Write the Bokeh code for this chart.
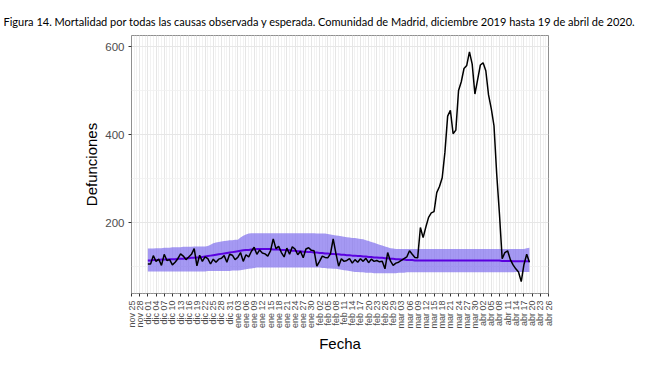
import math
import pandas as pd
from bokeh.plotting import figure
from bokeh.models import FixedTicker, Range1d
from bokeh.embed import file_html
from bokeh.resources import INLINE

# ---------------- data ----------------
title_text = ("Figura 14. Mortalidad por todas las causas observada y esperada. "
              "Comunidad de Madrid, diciembre 2019 hasta 19 de abril de 2020.")

start_date = "2019-12-01"   # first day of the series (141 daily values, to 2020-04-19)

observed = [
    106, 106, 125, 112, 117, 103, 128, 114, 116, 104,
    110, 118, 129, 124, 116, 122, 128, 141, 102, 126,
    112, 122, 118, 106, 117, 110, 117, 119, 125, 110,
    128, 126, 116, 121, 132, 112, 127, 122, 135, 144,
    128, 138, 131, 129, 124, 136, 163, 141, 146, 132,
    122, 142, 128, 145, 140, 127, 135, 120, 140, 143,
    137, 136, 101, 112, 124, 121, 120, 129, 163, 130,
    101, 118, 112, 114, 118, 108, 116, 110, 118, 112,
    119, 109, 117, 112, 114, 111, 112, 95, 132, 113,
    103, 108, 110, 114, 118, 122, 136, 128, 121, 120,
    189, 166, 190, 212, 222, 225, 268, 282, 302, 360,
    442, 455, 402, 410, 500, 520, 550, 557, 588, 560,
    492, 525, 558, 563, 545, 490, 459, 420, 310, 220,
    118, 132, 136, 116, 104, 95, 88, 66, 105, 128,
    110,
]

expected = [
    114, 114, 115, 115, 115, 116, 116, 116, 117, 117,
    117, 118, 118, 118, 119, 119, 120, 120, 121, 121,
    122, 123, 124, 125, 126, 127, 128, 129, 130, 131,
    132, 133, 134, 135, 136, 137, 138, 138, 139, 139,
    140, 140, 140, 140, 140, 140, 139, 139, 139, 138,
    138, 137, 137, 136, 136, 135, 135, 134, 134, 133,
    133, 132, 132, 131, 131, 130, 130, 129, 129, 128,
    128, 127, 127, 126, 126, 125, 125, 124, 124, 123,
    123, 122, 122, 121, 121, 120, 120, 119, 119, 118,
    118, 117, 117, 116, 116, 115, 115, 115, 114, 114,
    114, 114, 114, 114, 114, 114, 114, 114, 114, 114,
    114, 114, 114, 114, 114, 114, 114, 114, 114, 114,
    114, 114, 114, 114, 114, 114, 114, 114, 114, 114,
    113, 113, 113, 113, 112, 112, 112, 112, 112, 112,
    112,
]

upper = [
    141, 141, 141, 142, 142, 142, 143, 143, 143, 144,
    144, 144, 144, 145, 145, 145, 145, 146, 146, 146,
    146, 146, 147, 150, 153, 155, 156, 157, 158, 159,
    160, 160, 161, 161, 166, 170, 173, 175, 176, 176,
    176, 176, 176, 176, 176, 176, 176, 176, 176, 176,
    176, 176, 176, 176, 176, 176, 176, 176, 176, 176,
    176, 176, 175, 175, 175, 175, 174, 173, 172, 171,
    170, 169, 168, 167, 166, 165, 165, 164, 163, 162,
    160, 158, 156, 154, 152, 150, 148, 146, 144, 142,
    141, 140, 140, 140, 140, 140, 140, 140, 140, 140,
    140, 140, 140, 140, 140, 140, 140, 140, 140, 140,
    140, 140, 140, 140, 140, 140, 140, 140, 140, 140,
    140, 140, 140, 140, 140, 140, 140, 140, 140, 140,
    140, 140, 140, 140, 140, 140, 140, 140, 140, 142,
    143,
]

lower = [
    89, 89, 89, 89, 89, 89, 89, 89, 89, 89,
    89, 89, 89, 89, 89, 89, 89, 89, 89, 89,
    89, 89, 90, 90, 90, 90, 90, 90, 90, 90,
    90, 91, 91, 91, 92, 93, 94, 95, 96, 97,
    98, 98, 98, 98, 98, 98, 98, 98, 98, 98,
    98, 98, 98, 98, 98, 98, 98, 98, 98, 98,
    98, 98, 98, 98, 97, 97, 96, 96, 95, 95,
    94, 93, 92, 91, 90, 89, 88, 88, 87, 87,
    86, 86, 86, 85, 85, 85, 85, 85, 85, 85,
    85, 85, 86, 86, 86, 87, 87, 87, 87, 87,
    87, 87, 87, 87, 87, 87, 87, 87, 87, 87,
    87, 87, 87, 87, 87, 87, 87, 87, 87, 87,
    87, 87, 87, 87, 87, 87, 87, 87, 87, 87,
    87, 87, 87, 87, 87, 88, 88, 88, 88, 88,
    88,
]

tick_labels = [
    "nov 25", "nov 28", "dic 01", "dic 04", "dic 07", "dic 10", "dic 13", "dic 16",
    "dic 19", "dic 22", "dic 25", "dic 28", "dic 31", "ene 03", "ene 06", "ene 09",
    "ene 12", "ene 15", "ene 18", "ene 21", "ene 24", "ene 27", "ene 30", "feb 02",
    "feb 05", "feb 08", "feb 11", "feb 14", "feb 17", "feb 20", "feb 23", "feb 26",
    "feb 29", "mar 03", "mar 06", "mar 09", "mar 12", "mar 15", "mar 18", "mar 21",
    "mar 24", "mar 27", "mar 30", "abr 02", "abr 05", "abr 08", "abr 11", "abr 14",
    "abr 17", "abr 20", "abr 23", "abr 26",
]
tick_start = "2019-11-25"

y_ticks = [200, 400, 600]
y_minor = [100, 300, 500]

# ---------------- build ----------------
dates = pd.date_range(start_date, periods=len(observed), freq="D")
tick_dates = pd.date_range(tick_start, periods=len(tick_labels), freq="3D")
day_grid = pd.date_range(tick_dates[0], tick_dates[-1], freq="D")

def ms(ts):
    return ts.value // 10**6

tick_ms = [ms(t) for t in tick_dates]
minor_ms = [ms(t) for t in day_grid]

p = figure(width=640, height=360, x_axis_type="datetime",
           output_backend="svg", toolbar_location=None,
           x_range=Range1d(tick_ms[0], tick_ms[-1]),
           y_range=Range1d(39, 625),
           min_border_left=131, min_border_right=92,
           min_border_top=35, min_border_bottom=67)

p.title.text = title_text
p.title.align = "left"
p.title.offset = -128
p.title.text_font = "Lato"
p.title.text_font_size = "11px"
p.title.text_font_style = "normal"
p.title.text_color = "#000000"
p.title.standoff = 16

p.background_fill_color = "white"
p.border_fill_color = "white"
p.outline_line_color = "#8f8f8f"
p.outline_line_width = 1

# band, expected, observed
p.varea(x=dates, y1=lower, y2=upper, fill_color="#7B68EE", fill_alpha=0.68)
p.line(x=dates, y=expected, line_color="#5A00E0", line_width=2)
p.line(x=dates, y=observed, line_color="#000000", line_width=1.5)

# x axis
p.xaxis.ticker = FixedTicker(ticks=tick_ms, minor_ticks=minor_ms)
p.xaxis.major_label_overrides = {t: lab for t, lab in zip(tick_ms, tick_labels)}
p.xaxis.major_label_orientation = math.pi / 2
p.xaxis.major_label_text_font = "Liberation Sans"
p.xaxis.major_label_text_font_size = "9px"
p.xaxis.major_label_text_color = "#4D4D4D"
p.xaxis.major_label_standoff = 3
p.xaxis.axis_label = "Fecha"
p.xaxis.axis_label_text_font = "Liberation Sans"
p.xaxis.axis_label_text_font_size = "15px"
p.xaxis.axis_label_text_font_style = "normal"
p.xaxis.axis_label_text_color = "#000000"
p.xaxis.axis_label_standoff = 3

# y axis
p.yaxis.ticker = FixedTicker(ticks=y_ticks, minor_ticks=y_minor)
p.yaxis.major_label_text_font = "Liberation Sans"
p.yaxis.major_label_text_font_size = "11.5px"
p.yaxis.major_label_text_color = "#4D4D4D"
p.yaxis.major_label_standoff = 3
p.yaxis.axis_label = "Defunciones"
p.yaxis.axis_label_text_font = "Liberation Sans"
p.yaxis.axis_label_text_font_size = "15px"
p.yaxis.axis_label_text_font_style = "normal"
p.yaxis.axis_label_text_color = "#000000"
p.yaxis.axis_label_standoff = 2

for ax in (p.xaxis, p.yaxis):
    ax.axis_line_color = None
    ax.major_tick_line_color = "#333333"
    ax.major_tick_out = 3
    ax.major_tick_in = 0
    ax.minor_tick_line_color = None

# grids
p.xgrid.grid_line_color = "#E6E6E6"
p.xgrid.grid_line_width = 1
p.xgrid.minor_grid_line_color = "#EFEFEF"
p.xgrid.minor_grid_line_width = 0.8
p.ygrid.grid_line_color = "#E6E6E6"
p.ygrid.grid_line_width = 1
p.ygrid.minor_grid_line_color = "#F0F0F0"
p.ygrid.minor_grid_line_width = 0.8

open("out.html", "w").write(file_html(p, INLINE))
